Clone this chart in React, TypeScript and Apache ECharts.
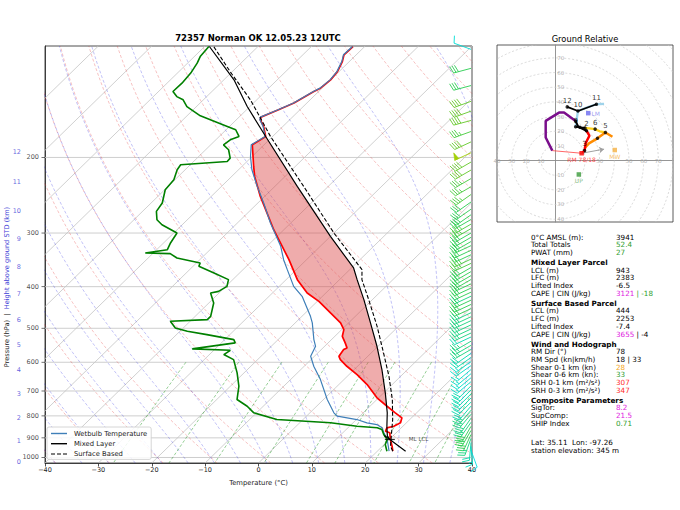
import React, { useEffect, useRef } from "react";
import * as echarts from "echarts";

// ---------------- axis frame constants ----------------
const PB = 1030;
const PT = 110;
const LNR = Math.log(PB / PT);
function skx(t: number, p: number) {
  return t + (80 * Math.log(PB / p)) / LNR;
}

// ---------------- sounding data (hPa / °C) ----------------
const tempP = [966.8, 941.2, 908, 876, 868.6, 852.8, 845.6, 830.3, 808.3, 787, 759.7, 726.2, 676.2, 640.9, 613.1, 591.5, 581.1, 560.6, 555.5, 540.8, 522, 503.6, 485.8, 460.5, 432.7, 413.7, 385.2, 346.1, 294.7, 246.5, 221.4, 209.9, 186.9, 178.7, 169.4, 163.4, 161.1, 154.9, 149.4, 140.4, 137.9, 131.9, 126.2, 119.6, 115.3, 110.3];
const tempT = [22.9, 21.8, 20.2, 18.8, 17.7, 17.3, 18.3, 18.9, 18.2, 16.0, 13.2, 9.7, 5.3, 1.5, -2.0, -4.5, -5.4, -5.8, -5.5, -6.8, -8.6, -9.6, -11.5, -15.3, -19.7, -23.5, -27.9, -33.3, -41.9, -50.8, -55.7, -57.8, -62.2, -61.3, -63.6, -65.5, -65.9, -64.0, -62.4, -60.9, -60.3, -60.0, -60.3, -61.3, -62.3, -62.2];

const dewP = [966.8, 932.7, 908, 884, 860.7, 852.8, 845.6, 830.3, 815.8, 787, 759.7, 732.8, 682.4, 635.1, 591.5, 575.8, 562.7, 558.5, 540.8, 531.3, 517.3, 508.2, 499, 481.7, 477.3, 469, 436.5, 413.7, 410.2, 399.3, 385.2, 371.6, 358.7, 352.3, 343, 335.1, 333.9, 328, 316.4, 299.9, 286.9, 279.3, 267.1, 255.4, 237.8, 225.4, 213.6, 208, 204.4, 200.7, 191.9, 186.9, 181.9, 178.7, 172.4, 169.4, 160, 152.2, 146.8, 144.3, 140.4, 134.3, 127.2, 120.6, 116.4, 110.3];
const dewT = [21.8, 20.2, 19.6, 18.0, 16.7, 15.5, 11.4, 5.8, -4.9, -10.5, -13.0, -16.2, -18.4, -21.3, -24.5, -27.3, -26.9, -34.3, -27.4, -28.3, -34.3, -38.6, -41.5, -43.7, -37.1, -37.1, -39.1, -41.6, -40.4, -39.8, -40.8, -44.8, -48.9, -49.3, -54.6, -56.7, -61.5, -58.0, -58.7, -59.4, -63.8, -65.7, -67.4, -67.9, -69.9, -70.2, -71.5, -71.8, -63.7, -63.8, -65.7, -67.6, -67.3, -66.3, -68.2, -70.4, -77.5, -81.8, -83.8, -85.6, -87.3, -87.2, -87.5, -88.2, -88.9, -89.2];

const wbP = [966.8, 908, 876, 852.8, 838, 830.3, 815.8, 801.4, 787, 732.8, 658.4, 613.1, 581.1, 550.7, 531.3, 485.8, 469, 421.3, 399.3, 365.1, 346.1, 322.2, 284.3, 255.4, 233.6, 213.6, 199, 186.9, 178.7, 169.4, 163.4, 161.1, 154.9, 149.4, 140.4, 137.9, 131.9, 126.2, 119.6, 115.3, 110.3];
const wbT = [22.2, 19.6, 17.7, 16.4, 14.8, 12.6, 10.1, 5.8, 4.5, 0.7, -4.4, -8.2, -10.7, -11.7, -13.3, -16.8, -18.4, -23.8, -27.3, -31.7, -34.3, -37.4, -43.8, -48.9, -53.3, -57.5, -60.3, -62.4, -61.4, -63.7, -65.6, -66.0, -64.1, -62.5, -61.0, -60.4, -60.1, -60.4, -61.4, -62.4, -62.3];

const mlP = [966.8, 908, 892, 845.6, 787, 707, 624, 550.7, 485.8, 428.8, 385.2, 361.8, 305.4, 233.6, 178.7, 152.2, 131.9, 110.3];
const mlT = [25.3, 20.1, 19.0, 17.0, 14.5, 10.3, 5.2, -0.2, -5.9, -11.6, -16.7, -19.6, -30.0, -45.8, -61.3, -70.5, -78.1, -89.1];

const sbP = [966.8, 941.2, 815.8, 732.8, 646.8, 570.6, 494.8, 428.8, 385.2, 365.1, 299.9, 233.6, 178.7, 146.8, 126.2, 110.3];
const sbT = [22.9, 21.5, 16.8, 12.9, 7.8, 2.3, -4.0, -10.7, -15.8, -17.7, -30.0, -44.6, -60.4, -71.2, -80.4, -88.3];

const mlLcl = [908, 20.1];
const mlLclTail = [888.8, 18.3];
const lfcP = 759.7;
const elP = 178.7;

// axis ticks
const pressureTicks = [1000, 900, 800, 700, 600, 500, 400, 300, 200];
const heightKm = [0, 1, 2, 3, 4, 5, 6, 7, 8, 9, 10, 11, 12];
const heightP = [1027, 916, 807, 713, 626, 548, 479, 415, 359, 309, 266, 228, 194];

// wind barbs (hPa, kt, deg)
const barbP = [112, 124, 136, 148, 156, 164, 174, 184, 195, 205, 214, 224, 234, 244, 254, 264, 272, 279, 286, 293, 300, 307, 314, 321, 329, 337, 345, 353, 361, 369, 377, 385, 394, 403, 412, 421, 430, 440, 450, 460, 470, 480, 491, 502, 513, 524, 536, 548, 560, 572, 585, 598, 611, 624, 638, 652, 666, 681, 696, 711, 727, 743, 759, 776, 793, 810, 828, 846, 865, 884, 903, 922, 942, 962];
const barbSpd = [12, 30, 30, 40, 40, 40, 35, 40, 50, 40, 40, 35, 35, 35, 30, 30, 30, 30, 35, 35, 30, 30, 30, 30, 30, 30, 35, 35, 30, 30, 30, 30, 30, 30, 30, 25, 30, 30, 30, 25, 25, 25, 25, 25, 25, 20, 25, 25, 25, 20, 20, 15, 15, 15, 15, 15, 15, 20, 20, 20, 20, 20, 20, 25, 25, 25, 25, 30, 30, 30, 25, 20, 15, 10];
const barbDir = [290, 255, 255, 250, 250, 255, 250, 245, 245, 240, 240, 240, 240, 235, 235, 235, 235, 240, 240, 240, 240, 240, 240, 245, 245, 245, 245, 245, 240, 240, 240, 240, 245, 245, 245, 245, 245, 245, 245, 245, 245, 245, 245, 245, 245, 245, 240, 240, 240, 235, 235, 235, 235, 230, 230, 230, 230, 225, 225, 225, 225, 225, 220, 220, 220, 215, 215, 210, 210, 205, 200, 185, 175, 160];

// hodograph (kt), segments by layer
const hodoPurple = [[-2.3, 6.8], [-6.8, 15.8], [-6.8, 27.1], [2.3, 32.8], [5.7, 32.8], [13.6, 27.0]];
const hodoBlack1 = [[13.6, 27.0], [15.5, 23], [21, 20.4]];
const hodoRed = [[21, 20.4], [23, 17], [20.5, 12], [19.7, 6.8], [18.2, 5.2]];
const hodoOrange = [[19.7, 8.5], [22.7, 11.8], [28.5, 15.2], [33.9, 19.2], [38.7, 16.3]];
const hodoYellow = [[33.9, 19.2], [30, 20], [26.9, 21.5], [20, 22.3]];
const hodoBlack2 = [[20, 22.3], [13.6, 23.1]];
const hodoBlue = [[13.6, 23.1], [15.2, 33.9], [22, 36.5], [27.8, 38.5], [33, 38.8]];
const hodoBlack3 = [[27.8, 38.5], [15.2, 33.9], [7.9, 36.7]];
const hodoDotU = [13.6, 21, 19.7, 28.5, 33.9, 26.9, 20, 16.5, 13.6, 15.2, 27.8, 7.9];
const hodoDotV = [27.0, 20.4, 6.8, 15.2, 19.2, 21.5, 22.3, 22.8, 23.1, 33.9, 38.5, 36.7];
const hodoDotKm = ["", "2", "3", "", "5", "6", "", "", "9", "10", "11", "12"];
const stormRM = [17.7, 5.0];
const stormLM = [22.2, 32.4];
const stormMW = [40.3, 7.2];
const stormUP = [15.8, -9.5];
const sfcWind = [-2.3, 6.8];
const ringPos = [10, 20, 30, 40, 50, 60, 70];
const ringPosX = [30, 50, 60, 70];
const ringNeg = [10, 20, 30, 40];

// stats panel
const statRows: [string, string][] = [
  ["0°C AMSL (m):", "{k|3941}"],
  ["Total Totals", "{g|52.4}"],
  ["PWAT (mm)", "{g|27}"],
  ["Mixed Layer Parcel", ""],
  ["LCL (m)", "{k|943}"],
  ["LFC (m)", "{k|2383}"],
  ["Lifted Index", "{k|-6.5}"],
  ["CAPE | CIN (J/kg)", "{m|3121}{g| | -18}"],
  ["Surface Based Parcel", ""],
  ["LCL (m)", "{k|444}"],
  ["LFC (m)", "{k|2253}"],
  ["Lifted Index", "{k|-7.4}"],
  ["CAPE | CIN (J/kg)", "{m|3655}{k| | -4}"],
  ["Wind and Hodograph", ""],
  ["RM Dir (°)", "{k|78}"],
  ["RM Spd (kn|km/h)", "{k|18 | 33}"],
  ["Shear 0-1 km (kn)", "{o|28}"],
  ["Shear 0-6 km (kn):", "{g|33}"],
  ["SRH 0-1 km (m²/s²)", "{r|307}"],
  ["SRH 0-3 km (m²/s²)", "{r|347}"],
  ["Composite Parameters", ""],
  ["SigTor:", "{m|8.2}"],
  ["SupComp:", "{m|21.5}"],
  ["SHIP Index", "{g|0.71}"],
];
const footRows = ["Lat: 35.11  Lon: -97.26", "station elevation: 345 m"];

const FONT = "DejaVu Sans";

// ---------------- helpers for background lines ----------------
function logSpaced(p0: number, p1: number, n: number) {
  const out: number[] = [];
  for (let i = 0; i < n; i++) out.push(p0 * Math.pow(p1 / p0, i / (n - 1)));
  return out;
}
function dryAdiabat(t0: number) {
  return logSpaced(PB, PT, 40).map((p) => {
    const t = (t0 + 273.15) * Math.pow(p / 1000, 0.2857) - 273.15;
    return [skx(t, p), p];
  });
}
function moistAdiabat(t0: number) {
  const Rd = 287.04749, Cp = 1004.66, Lv = 2.50084e6, eps = 0.6219569;
  const f = (p: number, T: number) => {
    const es = 6.112 * Math.exp((17.67 * (T - 273.15)) / (T - 29.65));
    const rs = (eps * es) / (p - es);
    return ((1 / p) * (Rd * T + Lv * rs)) / (Cp + (Lv * Lv * rs * eps) / (Rd * T * T));
  };
  const integ = (pEnd: number, dp: number) => {
    const out: number[][] = [];
    let p = 1000, T = t0 + 273.15;
    out.push([skx(T - 273.15, p), p]);
    while ((dp < 0 && p > pEnd) || (dp > 0 && p < pEnd)) {
      const k1 = f(p, T);
      const k2 = f(p + dp / 2, T + (dp / 2) * k1);
      const k3 = f(p + dp / 2, T + (dp / 2) * k2);
      const k4 = f(p + dp, T + dp * k3);
      T += (dp / 6) * (k1 + 2 * k2 + 2 * k3 + k4);
      p += dp;
      out.push([skx(T - 273.15, p), p]);
    }
    return out;
  };
  const up = integ(PT, -10);
  const down = integ(PB, 10);
  return down.reverse().concat(up.slice(1));
}
function mixingLine(w: number) {
  const out: number[][] = [];
  for (let i = 0; i < 30; i++) {
    const p = 600 + ((PB - 600) * i) / 29;
    const e = (w * p) / (0.6219569 + w);
    const l = Math.log(e / 6.112);
    const td = (243.5 * l) / (17.67 - l);
    out.push([skx(td, p), p]);
  }
  return out;
}
function prof(P: number[], T: number[]) {
  return P.map((p, i) => [skx(T[i], p), p]);
}
function barbColor(s: number) {
  const stops = [
    [8, [0, 225, 235]],
    [20, [0, 215, 170]],
    [30, [40, 205, 80]],
    [40, [100, 200, 40]],
    [52, [175, 210, 0]],
  ] as [number, number[]][];
  if (s <= stops[0][0]) return `rgb(${stops[0][1].join(",")})`;
  for (let i = 1; i < stops.length; i++) {
    if (s <= stops[i][0]) {
      const a = (s - stops[i - 1][0]) / (stops[i][0] - stops[i - 1][0]);
      const c = stops[i - 1][1].map((v, j) => Math.round(v + (stops[i][1][j] - v) * a));
      return `rgb(${c.join(",")})`;
    }
  }
  return `rgb(${stops[stops.length - 1][1].join(",")})`;
}
function barbGroup(bx: number, by: number, spd: number, dir: number) {
  const L = 18;
  const rad = (dir * Math.PI) / 180;
  const sx = Math.sin(rad), sy = -Math.cos(rad);
  const fx = Math.cos(rad), fy = Math.sin(rad);
  const color = barbColor(spd);
  const at = (a: number, side: number) => [bx + sx * a + fx * side, by + sy * a + fy * side];
  const children: any[] = [];
  const st = { stroke: color, lineWidth: 0.9, fill: "none" };
  children.push({ type: "polyline", shape: { points: [at(0, 0), at(L, 0)] }, style: st });
  let rem = Math.round(spd / 5) * 5;
  const nFlag = Math.floor(rem / 50);
  rem -= nFlag * 50;
  const nFull = Math.floor(rem / 10);
  rem -= nFull * 10;
  const half = rem >= 5;
  const fh = 0.4 * L, fw = 0.25 * L, sp = 0.14 * L;
  let a = L;
  for (let i = 0; i < nFlag; i++) {
    children.push({ type: "polygon", shape: { points: [at(a, 0), at(a - fw / 2, fh), at(a - fw, 0)] }, style: { fill: color, stroke: color, lineWidth: 0.6 } });
    a -= fw + sp;
  }
  for (let i = 0; i < nFull; i++) {
    children.push({ type: "polyline", shape: { points: [at(a, 0), at(a + fw / 2, fh)] }, style: st });
    a -= sp;
  }
  if (half) {
    if (a === L) a -= 1.5 * sp;
    children.push({ type: "polyline", shape: { points: [at(a, 0), at(a + fw / 4, fh / 2)] }, style: st });
  }
  return { type: "group", children };
}

function buildOption() {
  const series: any[] = [];
  const bg = (data: number[][], color: string, dash: any, width = 0.8) => ({
    type: "line",
    xAxisIndex: 0,
    yAxisIndex: 0,
    data,
    symbol: "none",
    silent: true,
    z: 1,
    lineStyle: { color, width, type: dash },
  });
  pressureTicks.forEach((p) => series.push(bg([[-40, p], [40, p]], "#c8c8c8", "solid", 0.9)));
  for (let t = -130; t <= 40; t += 10) series.push(bg([[skx(t, PB), PB], [skx(t, PT), PT]], "#c4c4c4", "solid", 0.8));
  for (let t = -40; t <= 200; t += 10) series.push(bg(dryAdiabat(t), "rgba(230,60,60,0.45)", [3, 2], 0.7));
  for (let t = -40; t <= 45; t += 5) series.push(bg(moistAdiabat(t), "rgba(60,60,230,0.45)", [3, 2], 0.7));
  [0.0004, 0.001, 0.002, 0.004, 0.007, 0.01, 0.016, 0.024, 0.032].forEach((w) =>
    series.push(bg(mixingLine(w), "rgba(0,140,0,0.6)", [3, 2], 0.7))
  );

  // CAPE shading between ML parcel and environment (LFC -> EL)
  const poly: number[][] = [];
  mlP.forEach((p, i) => {
    if (p <= lfcP + 0.01 && p >= elP - 0.01) poly.push([mlT[i], p]);
  });
  poly.unshift([tempT[tempP.indexOf(lfcP)], lfcP]);
  const envPart: number[][] = [];
  tempP.forEach((p, i) => {
    if (p < lfcP && p > elP) envPart.push([tempT[i], p]);
  });
  envPart.reverse().forEach((q) => poly.push(q));
  series.push({
    type: "custom",
    xAxisIndex: 0,
    yAxisIndex: 0,
    silent: true,
    z: 2,
    data: [[0, 500]],
    renderItem: (_params: any, api: any) => ({
      type: "polygon",
      shape: { points: poly.map((q) => api.coord([skx(q[0], q[1]), q[1]])) },
      style: { fill: "rgba(220,70,70,0.45)", stroke: "none" },
    }),
  });

  const prof2 = (name: string | undefined, data: number[][], color: string, width: number, type: any = "solid", z = 4) => ({
    type: "line",
    name,
    xAxisIndex: 0,
    yAxisIndex: 0,
    data,
    symbol: "none",
    silent: true,
    z,
    lineStyle: { color, width, type },
    itemStyle: { color },
  });
  series.push(prof2(undefined, prof(tempP, tempT), "#ff0000", 1.7, "solid", 4));
  series.push(prof2("Wetbulb Temperature", prof(wbP, wbT), "#3f7fb8", 1.2, "solid", 5));
  series.push(prof2(undefined, prof(dewP, dewT), "#008000", 1.6, "solid", 5));
  series.push(prof2("Mixed Layer", prof(mlP, mlT), "#000000", 1.2, "solid", 6));
  series.push(prof2("Surface Based", prof(sbP, sbT), "#000000", 1.1, [4, 2], 6));
  series.push(prof2(undefined, [[skx(mlLcl[1], mlLcl[0]), mlLcl[0]], [skx(mlLclTail[1], mlLclTail[0]), mlLclTail[0]]], "#000", 1.1, "solid", 6));
  series.push({
    type: "scatter",
    xAxisIndex: 0,
    yAxisIndex: 0,
    clip: false,
    silent: true,
    z: 7,
    symbol: "rect",
    symbolSize: [10, 1.2],
    itemStyle: { color: "#000" },
    data: [[skx(mlLcl[1], mlLcl[0]), mlLcl[0]]],
    label: { show: true, position: "right", distance: 14, formatter: "ML LCL", fontSize: 5.5, fontFamily: FONT, color: "#222" },
  });

  // wind barbs
  series.push({
    type: "custom",
    xAxisIndex: 0,
    yAxisIndex: 0,
    silent: true,
    clip: false,
    z: 8,
    data: barbP.map((p, i) => [40, p, barbSpd[i], barbDir[i]]),
    encode: { x: 0, y: 1 },
    renderItem: (_params: any, api: any) => {
      const pt = api.coord([40, api.value(1)]);
      return barbGroup(pt[0] - 1, pt[1], api.value(2), api.value(3));
    },
  });

  // pressure tick labels
  series.push({
    type: "scatter",
    xAxisIndex: 0,
    yAxisIndex: 0,
    clip: false,
    silent: true,
    symbol: "rect",
    symbolSize: [3.5, 0.8],
    symbolOffset: [-1.75, 0],
    itemStyle: { color: "#222" },
    data: pressureTicks.map((p) => [-40, p]),
    label: { show: true, position: "left", distance: 2.5, fontSize: 6.5, fontFamily: FONT, color: "#222", formatter: (d: any) => String(d.value[1]) },
  });
  series.push({
    type: "scatter",
    xAxisIndex: 0,
    yAxisIndex: 0,
    clip: false,
    silent: true,
    symbolSize: 0.1,
    itemStyle: { color: "rgba(0,0,0,0)" },
    data: heightP.map((p, i) => [-40, p, heightKm[i]]),
    label: { show: true, position: "left", distance: 24, fontSize: 6.5, fontFamily: FONT, color: "#3b3bd6", formatter: (d: any) => String(d.value[2]) },
  });

  // ---------- hodograph ----------
  const hx = 1;
  series.push({
    type: "custom",
    xAxisIndex: hx,
    yAxisIndex: hx,
    silent: true,
    clip: true,
    z: 1,
    data: [10, 20, 30, 40, 50, 60, 70, 80, 90, 100, 110].map((r) => [0, 0, r]),
    renderItem: (_p: any, api: any) => {
      const c = api.coord([0, 0]);
      const r = api.size([api.value(2), 0])[0];
      return { type: "circle", shape: { cx: c[0], cy: c[1], r }, style: { fill: "none", stroke: "#c8c8c8", lineWidth: 0.7, lineDash: [2, 2] } };
    },
  });
  const ringLbl = (data: any[], position: string, distance: number) => ({
    type: "scatter",
    xAxisIndex: hx,
    yAxisIndex: hx,
    silent: true,
    clip: false,
    symbolSize: 0.1,
    itemStyle: { color: "rgba(0,0,0,0)" },
    z: 2,
    data,
    label: { show: true, position, distance, fontSize: 5.5, fontFamily: FONT, color: "#a0a0a0", formatter: (d: any) => d.value[2] },
  });
  series.push(ringLbl(ringPos.map((r) => [0, r, String(r)]).concat(ringNeg.map((r) => [0, -r, String(r)])), "right", 1.5));
  series.push(ringLbl(ringPosX.map((r) => [r, 0, String(r)]).concat(ringNeg.map((r) => [-r, 0, String(r)])), "inside", 0));

  const hodoLine = (data: any[], color: string, width = 2.2, z = 3) => ({
    type: "line",
    xAxisIndex: hx,
    yAxisIndex: hx,
    data,
    symbol: "none",
    silent: true,
    z,
    lineStyle: { color, width },
  });
  series.push(hodoLine([sfcWind, stormRM], "#ff4040", 0.8, 2));
  series.push(hodoLine(hodoBlue, "#9fd3ea", 2.3));
  series.push(hodoLine(hodoBlack3, "#000000", 1.8));
  series.push(hodoLine(hodoBlack2, "#000000", 1.8));
  series.push(hodoLine(hodoYellow, "#ffd21e", 2.3));
  series.push(hodoLine(hodoOrange, "#ff8c00", 2.5));
  series.push(hodoLine(hodoRed, "#ff0000", 2.5));
  series.push(hodoLine(hodoBlack1, "#000000", 2));
  series.push(hodoLine(hodoPurple, "#7a0e8c", 2.5));
  series.push({
    type: "lines",
    coordinateSystem: "cartesian2d",
    xAxisIndex: hx,
    yAxisIndex: hx,
    silent: true,
    z: 4,
    symbol: ["none", "arrow"],
    symbolSize: 5,
    data: [{ coords: [stormRM, [33, 7.8]] }],
    lineStyle: { color: "#a0a0a0", width: 1, opacity: 1 },
  });
  series.push({
    type: "scatter",
    xAxisIndex: hx,
    yAxisIndex: hx,
    silent: true,
    z: 6,
    symbolSize: 3.5,
    itemStyle: { color: "#000" },
    data: hodoDotU.map((u, i) => [u, hodoDotV[i], hodoDotKm[i]]),
    label: { show: true, position: "top", distance: 1, fontSize: 7, fontFamily: FONT, color: "#000", formatter: (d: any) => d.value[2] },
  });
  const storm = (pt: number[], color: string, text: string, tcolor: string, pos = "bottom") => ({
    type: "scatter",
    xAxisIndex: hx,
    yAxisIndex: hx,
    silent: true,
    z: 7,
    symbol: "rect",
    symbolSize: 4.5,
    itemStyle: { color },
    data: [pt],
    label: { show: true, position: pos, distance: 1, fontSize: 6, fontFamily: FONT, color: tcolor, formatter: text },
  });
  series.push(storm(stormRM, "#ff0000", "RM 78/18", "#ff2020"));
  series.push(storm(stormLM, "#6a6af0", "LM", "#8a8af0", "right"));
  series.push(storm(stormMW, "#f5b042", "MW", "#f5b042"));
  series.push(storm(stormUP, "#3a9a3a", "UP", "#6ab06a"));

  // ---------- graphics (title, texts) ----------
  const graphic: any[] = [];
  graphic.push({
    type: "text",
    x: 258,
    y: 38,
    style: { text: "72357 Norman OK 12.05.23 12UTC", font: `bold 8.5px "${FONT}"`, fill: "#000", textAlign: "center", textVerticalAlign: "middle" },
  });
  graphic.push({
    type: "text",
    x: 585,
    y: 39,
    style: { text: "Ground Relative", font: `8.3px "${FONT}"`, fill: "#000", textAlign: "center", textVerticalAlign: "middle" },
  });
  graphic.push({
    type: "text",
    x: 7,
    y: 287,
    rotation: Math.PI / 2,
    style: {
      text: "{k|Pressure (hPa)}{k|  |  }{b|Height above ground STD (km)}",
      textAlign: "center",
      textVerticalAlign: "middle",
      rich: {
        k: { font: `6.6px "${FONT}"`, fill: "#222" },
        b: { font: `6.6px "${FONT}"`, fill: "#3b3bd6" },
      },
    },
  });
  let y = 237;
  statRows.forEach((row, i) => {
    const header = row[1] === "";
    if (i > 0) y += header ? 10 : 7.7;
    graphic.push({
      type: "text",
      x: 531,
      y,
      style: { text: row[0], font: `${header ? "bold " : ""}7.2px "${FONT}"`, fill: "#000", textVerticalAlign: "middle" },
    });
    if (!header) {
      const base = `7.2px "${FONT}"`;
      graphic.push({
        type: "text",
        x: 616,
        y,
        style: {
          text: row[1],
          textVerticalAlign: "middle",
          rich: {
            k: { font: base, fill: "#000" },
            g: { font: base, fill: "#2e9e2e" },
            m: { font: base, fill: "#e020e0" },
            o: { font: base, fill: "#f5a623" },
            r: { font: base, fill: "#ff2a2a" },
          },
        },
      });
    }
  });
  footRows.forEach((t, i) => {
    graphic.push({
      type: "text",
      x: 531,
      y: 442 + i * 8,
      style: { text: t, font: `7.2px "${FONT}"`, fill: "#000", textVerticalAlign: "middle" },
    });
  });

  return {
    animation: false,
    backgroundColor: "#ffffff",
    textStyle: { fontFamily: FONT },
    grid: [
      { left: 45, top: 46, width: 427, height: 417, show: true, borderColor: "#222", borderWidth: 0.8, backgroundColor: "transparent" },
      { left: 497, top: 45, width: 176, height: 177, show: true, borderColor: "#333", borderWidth: 0.8, backgroundColor: "transparent" },
    ],
    xAxis: [
      {
        gridIndex: 0,
        type: "value",
        min: -40,
        max: 40,
        interval: 10,
        axisLine: { show: true, onZero: false, lineStyle: { color: "#222", width: 0.8 } },
        axisTick: { show: true, length: 3.5, lineStyle: { color: "#222", width: 0.8 } },
        axisLabel: { fontSize: 6.5, color: "#222", margin: 3, fontFamily: FONT, formatter: (v: number) => (v < 0 ? "\u2212" + -v : String(v)) },
        splitLine: { show: false },
        name: "Temperature (°C)",
        nameLocation: "middle",
        nameGap: 16,
        nameTextStyle: { fontSize: 6.8, color: "#222", fontFamily: FONT },
      },
      {
        gridIndex: 1,
        type: "value",
        min: -40,
        max: 80,
        axisLine: { show: true, onZero: true, lineStyle: { color: "#8a8a8a", width: 0.9 } },
        axisTick: { show: false },
        axisLabel: { show: false },
        splitLine: { show: false },
      },
    ],
    yAxis: [
      {
        gridIndex: 0,
        type: "log",
        min: PT,
        max: PB,
        inverse: true,
        axisLine: { show: true, onZero: false, lineStyle: { color: "#222", width: 0.8 } },
        axisTick: { show: false },
        axisLabel: { show: false },
        splitLine: { show: false },
      },
      {
        gridIndex: 1,
        type: "value",
        min: -42,
        max: 79,
        axisLine: { show: true, onZero: true, lineStyle: { color: "#8a8a8a", width: 0.9 } },
        axisTick: { show: false },
        axisLabel: { show: false },
        splitLine: { show: false },
      },
    ],
    legend: {
      data: [
        { name: "Wetbulb Temperature", icon: "rect", itemStyle: { color: "#3f7fb8" } },
        { name: "Mixed Layer", icon: "rect", itemStyle: { color: "#000" } },
        { name: "Surface Based", icon: "path://M0,0h4v1h-4z M6,0h4v1h-4z M12,0h4v1h-4z", itemStyle: { color: "#000" } },
      ],
      orient: "vertical",
      left: 47,
      top: 427,
      itemWidth: 16,
      itemHeight: 1.4,
      itemGap: 3.2,
      padding: [3, 4, 2, 4],
      backgroundColor: "rgba(255,255,255,0.85)",
      borderColor: "#cccccc",
      borderWidth: 0.8,
      borderRadius: 2,
      textStyle: { fontSize: 6.8, color: "#222", fontFamily: FONT, padding: [0, 0, 0, 2] },
    },
    graphic,
    series,
  };
}

export default function App() {
  const ref = useRef<HTMLDivElement>(null);
  useEffect(() => {
    const chart = echarts.init(ref.current as HTMLDivElement, undefined, { renderer: "svg", width: 680, height: 510 });
    chart.setOption(buildOption() as any);
    return () => chart.dispose();
  }, []);
  return <div ref={ref} style={{ width: 680, height: 510, position: "absolute", left: 0, top: 0 }} />;
}
